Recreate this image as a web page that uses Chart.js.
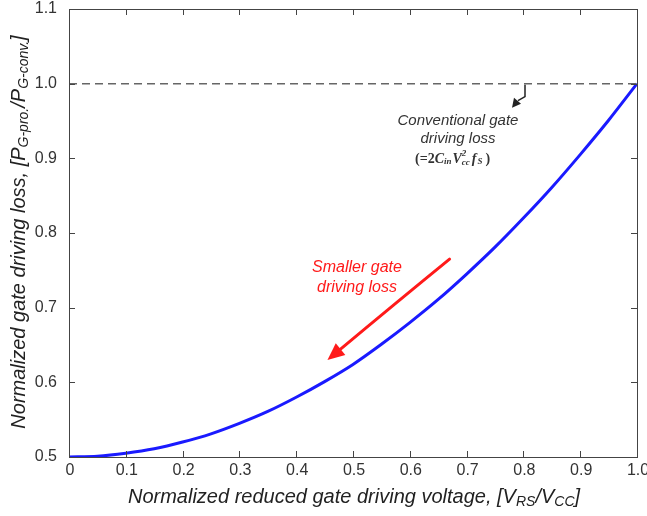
<!DOCTYPE html>
<html>
<head>
<meta charset="utf-8">
<script src="https://cdn.jsdelivr.net/npm/chart.js@4"></script>
<style>
  html, body { margin: 0; padding: 0; background: #fff; }
  #wrap { width: 647px; height: 516px; position: relative; }
</style>
</head>
<body>
<div id="wrap"><canvas id="lossChart"></canvas></div>
<script>
// values
const voltageRatio = [0, 0.05, 0.1, 0.15, 0.2, 0.25, 0.3, 0.35, 0.4, 0.45, 0.5,
  0.55, 0.6, 0.65, 0.7, 0.75, 0.8, 0.85, 0.9, 0.95, 1.0];
const lossRatio = [0.5, 0.501, 0.505, 0.511, 0.52, 0.531, 0.545, 0.561, 0.58, 0.601, 0.624,
  0.651, 0.68, 0.711, 0.745, 0.781, 0.82, 0.861, 0.905, 0.951, 1.0];
const convX = [0, 1.0];
const convY = [1.0, 1.0];
const xTicks = [0, 0.1, 0.2, 0.3, 0.4, 0.5, 0.6, 0.7, 0.8, 0.9, 1.0];
const yTicks = [0.5, 0.6, 0.7, 0.8, 0.9, 1.0, 1.1];

const tickColor = "#333";
const font = "Arial, 'Liberation Sans', sans-serif";
const serif = "'Liberation Serif', 'Times New Roman', serif";

// text with subscripts: parts = [[text, isSub], ...]
function drawRich(ctx, parts, x, y, size, align) {
  const subSize = Math.round(size * 0.68);
  let total = 0;
  parts.forEach((p) => {
    ctx.font = "italic " + (p[1] ? subSize : size) + "px " + font;
    total += ctx.measureText(p[0]).width;
  });
  let cx = align === "center" ? x - total / 2 : x;
  ctx.textAlign = "left";
  parts.forEach((p) => {
    ctx.font = "italic " + (p[1] ? subSize : size) + "px " + font;
    ctx.fillText(p[0], cx, p[1] ? y + size * 0.28 : y);
    cx += ctx.measureText(p[0]).width;
  });
}

// run of [text, fontString, dy] pieces drawn left to right
function drawRun(ctx, pieces, x, y) {
  ctx.textAlign = "left";
  let cx = x;
  pieces.forEach((p) => {
    ctx.font = p[1];
    ctx.fillText(p[0], cx + (p[3] || 0), y + p[2]);
    if (!p[4]) cx += ctx.measureText(p[0]).width + (p[3] || 0);
  });
}

const decorations = {
  id: "decorations",
  afterDraw(chart) {
    const ctx = chart.ctx;
    const a = chart.chartArea;
    const xs = chart.scales.x;
    const ys = chart.scales.y;
    ctx.save();

    // frame
    ctx.strokeStyle = "#444";
    ctx.lineWidth = 1;
    ctx.strokeRect(a.left + 0.5, a.top + 0.5, a.right - a.left, a.bottom - a.top);

    // inward ticks
    ctx.beginPath();
    xTicks.forEach((v) => {
      const px = Math.round(xs.getPixelForValue(v)) + 0.5;
      ctx.moveTo(px, a.bottom); ctx.lineTo(px, a.bottom - 6);
      ctx.moveTo(px, a.top); ctx.lineTo(px, a.top + 6);
    });
    yTicks.forEach((v) => {
      const py = Math.round(ys.getPixelForValue(v)) + 0.5;
      ctx.moveTo(a.left, py); ctx.lineTo(a.left + 6, py);
      ctx.moveTo(a.right, py); ctx.lineTo(a.right - 6, py);
    });
    ctx.stroke();

    // tick labels
    ctx.fillStyle = tickColor;
    ctx.font = "16px " + font;
    ctx.textBaseline = "middle";
    ctx.textAlign = "center";
    xTicks.forEach((v) => {
      ctx.fillText(v === 0 ? "0" : v.toFixed(1), xs.getPixelForValue(v) + 1, a.bottom + 14);
    });
    ctx.textAlign = "right";
    yTicks.forEach((v) => {
      ctx.fillText(v.toFixed(1), a.left - 12, ys.getPixelForValue(v));
    });

    // axis titles
    ctx.fillStyle = "#222";
    drawRich(ctx, [["Normalized reduced gate driving voltage, [V", false], ["RS", true],
      ["/V", false], ["CC", true], ["]", false]], 354, 497, 20, "center");
    ctx.save();
    ctx.translate(19, 232);
    ctx.rotate(-Math.PI / 2);
    drawRich(ctx, [["Normalized gate driving loss, [P", false], ["G-pro.", true],
      ["/P", false], ["G-conv.", true], ["]", false]], 0, 0, 20, "center");
    ctx.restore();

    // conventional loss note
    ctx.fillStyle = "#333";
    ctx.textAlign = "center";
    ctx.font = "italic 15px " + font;
    ctx.fillText("Conventional gate", 458, 121);
    ctx.fillText("driving loss", 458, 139);
    const b = "bold 14px " + serif;
    const bi = "bold italic 14px " + serif;
    const bs = "bold italic 9px " + serif;
    drawRun(ctx, [
      ["(=2", b, 0],
      ["C", bi, 0],
      ["in", bs, 3],
      ["V", bi, 0, 1],
      ["2", bs, -5, 0, true],
      ["cc", bs, 4],
      ["f", bi, 0, 2],
      ["S", bs, 3, 1],
      [")", b, 0, 3],
    ], 415, 159);

    // small black pointer from the dashed line
    const y1 = ys.getPixelForValue(1.0);
    ctx.strokeStyle = "#222";
    ctx.fillStyle = "#222";
    ctx.lineWidth = 1.5;
    ctx.beginPath();
    ctx.moveTo(525, y1 + 1);
    ctx.lineTo(525, y1 + 13);
    ctx.lineTo(518, y1 + 17);
    ctx.stroke();
    ctx.beginPath();
    ctx.moveTo(512, y1 + 24);
    ctx.lineTo(514, y1 + 14);
    ctx.lineTo(521, y1 + 20);
    ctx.closePath();
    ctx.fill();

    // red arrow
    const sx = xs.getPixelForValue(0.67), sy = ys.getPixelForValue(0.765);
    const ex = xs.getPixelForValue(0.455), ey = ys.getPixelForValue(0.63);
    const ang = Math.atan2(ey - sy, ex - sx);
    const hl = 17, hw = 7.5;
    const bx = ex - hl * Math.cos(ang), by = ey - hl * Math.sin(ang);
    ctx.strokeStyle = "#ff1a1a";
    ctx.fillStyle = "#ff1a1a";
    ctx.lineWidth = 3;
    ctx.lineCap = "round";
    ctx.beginPath();
    ctx.moveTo(sx, sy);
    ctx.quadraticCurveTo((sx + bx) / 2 + 3, (sy + by) / 2 - 3, bx, by);
    ctx.stroke();
    ctx.beginPath();
    ctx.moveTo(ex, ey);
    ctx.lineTo(bx - hw * Math.sin(ang), by + hw * Math.cos(ang));
    ctx.lineTo(bx + hw * Math.sin(ang), by - hw * Math.cos(ang));
    ctx.closePath();
    ctx.fill();
    ctx.font = "italic 16px " + font;
    ctx.textAlign = "center";
    ctx.fillText("Smaller gate", 357, 268);
    ctx.fillText("driving loss", 357, 288);

    ctx.restore();
  },
};

const ctx = document.getElementById("lossChart").getContext("2d");
new Chart(ctx, {
  type: "scatter",
  data: {
    datasets: [
      {
        label: "Conventional",
        data: convX.map((x, i) => ({ x: x, y: convY[i] })),
        showLine: true,
        borderColor: "#666",
        borderWidth: 1.5,
        borderDash: [8, 5],
        pointRadius: 0,
      },
      {
        label: "Proposed",
        data: voltageRatio.map((x, i) => ({ x: x, y: lossRatio[i] })),
        showLine: true,
        borderColor: "#1a1aff",
        borderWidth: 3,
        pointRadius: 0,
        tension: 0.3,
      },
    ],
  },
  options: {
    responsive: true,
    maintainAspectRatio: false,
    animation: false,
    layout: { padding: { top: 9, right: 10, left: 0, bottom: 0 } },
    plugins: { legend: { display: false }, tooltip: { enabled: false } },
    scales: {
      x: {
        type: "linear",
        min: 0,
        max: 1.0,
        afterFit: (s) => { s.height = 59; },
        grid: { display: false },
        border: { display: false },
        ticks: { display: false },
      },
      y: {
        type: "linear",
        min: 0.5,
        max: 1.1,
        afterFit: (s) => { s.width = 69; },
        grid: { display: false },
        border: { display: false },
        ticks: { display: false },
      },
    },
  },
  plugins: [decorations],
});
</script>
</body>
</html>
